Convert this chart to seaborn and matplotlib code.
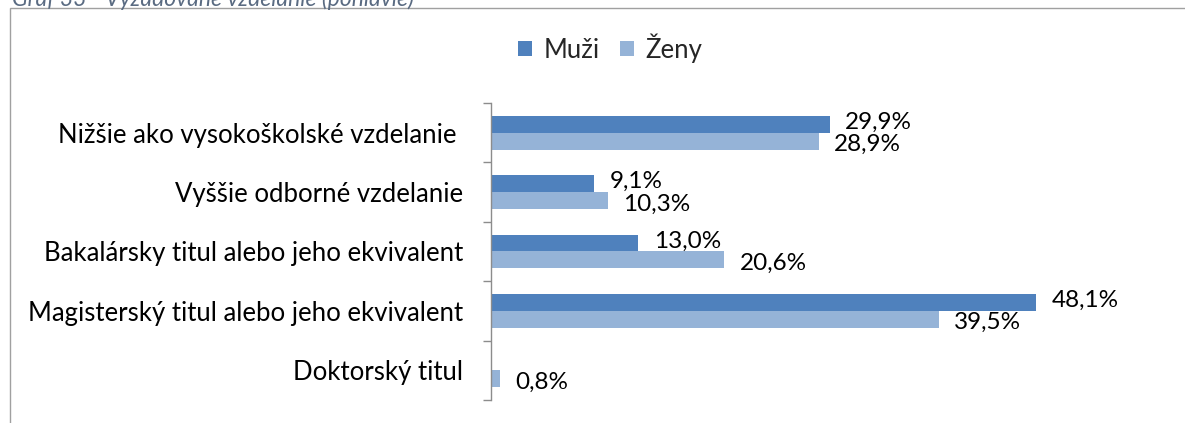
import numpy as np
import pandas as pd
import matplotlib
matplotlib.use("Agg")
import matplotlib.pyplot as plt
from matplotlib.patches import Rectangle
import seaborn as sns

# Survey data: required education by gender (%)
categories = [
    "Nižšie ako vysokoškolské vzdelanie ",
    "Vyššie odborné vzdelanie",
    "Bakalársky titul alebo jeho ekvivalent",
    "Magisterský titul alebo jeho ekvivalent",
    "Doktorský titul",
]
series_names = ["Muži", "Ženy"]
muzi = [29.9, 9.1, 13.0, 48.1, np.nan]
zeny = [28.9, 10.3, 20.6, 39.5, 0.8]
caption = "Graf 33 - Vyžadované vzdelanie (pohlavie)"

colors = {"Muži": "#4F81BD", "Ženy": "#95B3D7"}

df = pd.DataFrame({
    "kategoria": categories * 2,
    "pohlavie": [series_names[0]] * len(categories) + [series_names[1]] * len(categories),
    "hodnota": muzi + zeny,
})

sns.set_theme(style="white")
plt.rcParams["font.family"] = ["Lato", "DejaVu Sans"]

W, H = 1185, 423
fig = plt.figure(figsize=(W / 100, H / 100), dpi=100)
fig.patch.set_facecolor("white")

# plot area: value axis at x=491px, categories span y=103..400px
ax = fig.add_axes([491 / W, (H - 400) / H, 680 / W, 297 / H])

sns.barplot(
    data=df, y="kategoria", x="hodnota", hue="pohlavie",
    order=categories, hue_order=series_names, palette=colors,
    orient="h", width=0.57, gap=0, saturation=1, edgecolor="none",
    legend=False, ax=ax,
)

ax.set_xlim(0, 60)
ax.set_ylim(len(categories) - 0.5, -0.5)
ax.set_xlabel("")
ax.set_ylabel("")
ax.set_xticks([])

for side in ["top", "right", "bottom"]:
    ax.spines[side].set_visible(False)
ax.spines["left"].set_color("#8C8C8C")
ax.spines["left"].set_linewidth(1.0)

# category labels at centres, tick marks at category boundaries
ax.set_yticks(range(len(categories)))
ax.set_yticklabels(categories, fontsize=18.5, color="black")
ax.tick_params(axis="y", which="major", left=False, length=0, pad=20)
ax.set_yticks(np.arange(-0.5, len(categories), 1.0), minor=True)
ax.tick_params(axis="y", which="minor", left=True, length=6, width=1.0,
               color="#8C8C8C", direction="out")

# value labels, the two series nudged apart vertically
nudge = {"Muži": 1.5, "Ženy": -2.5}
for container, name in zip(ax.containers, series_names):
    vals = muzi if name == "Muži" else zeny
    for rect, v in zip(container.patches, vals):
        if np.isnan(v):
            continue
        y = rect.get_y() + rect.get_height() / 2
        ax.annotate(
            f"{v:.1f}%".replace(".", ","),
            xy=(v, y), xytext=(11, nudge[name]), textcoords="offset points",
            ha="left", va="center", fontsize=17.5, color="black",
            annotation_clip=False,
        )

# legend
handles = [Rectangle((0, 0), 1, 1, facecolor=colors[n], edgecolor="none") for n in series_names]
fig.legend(
    handles, series_names, loc="center", bbox_to_anchor=(610 / W, 1 - 48 / H),
    ncol=2, frameon=False, fontsize=18.5, handlelength=0.55, handleheight=0.55,
    handletextpad=0.45, columnspacing=0.8, borderpad=0,
)

# chart frame and caption above it
fig.add_artist(Rectangle((10 / W, -0.1), 2, 1 - 8 / H + 0.1, transform=fig.transFigure,
                         fill=False, edgecolor="#A0A0A0", linewidth=1.0))
fig.text(12 / W, 1 - 5.5 / H, caption, fontsize=16.5, style="italic", color="#5A6B82",
         ha="left", va="baseline")

fig.savefig("out.png", dpi=100, facecolor="white")
